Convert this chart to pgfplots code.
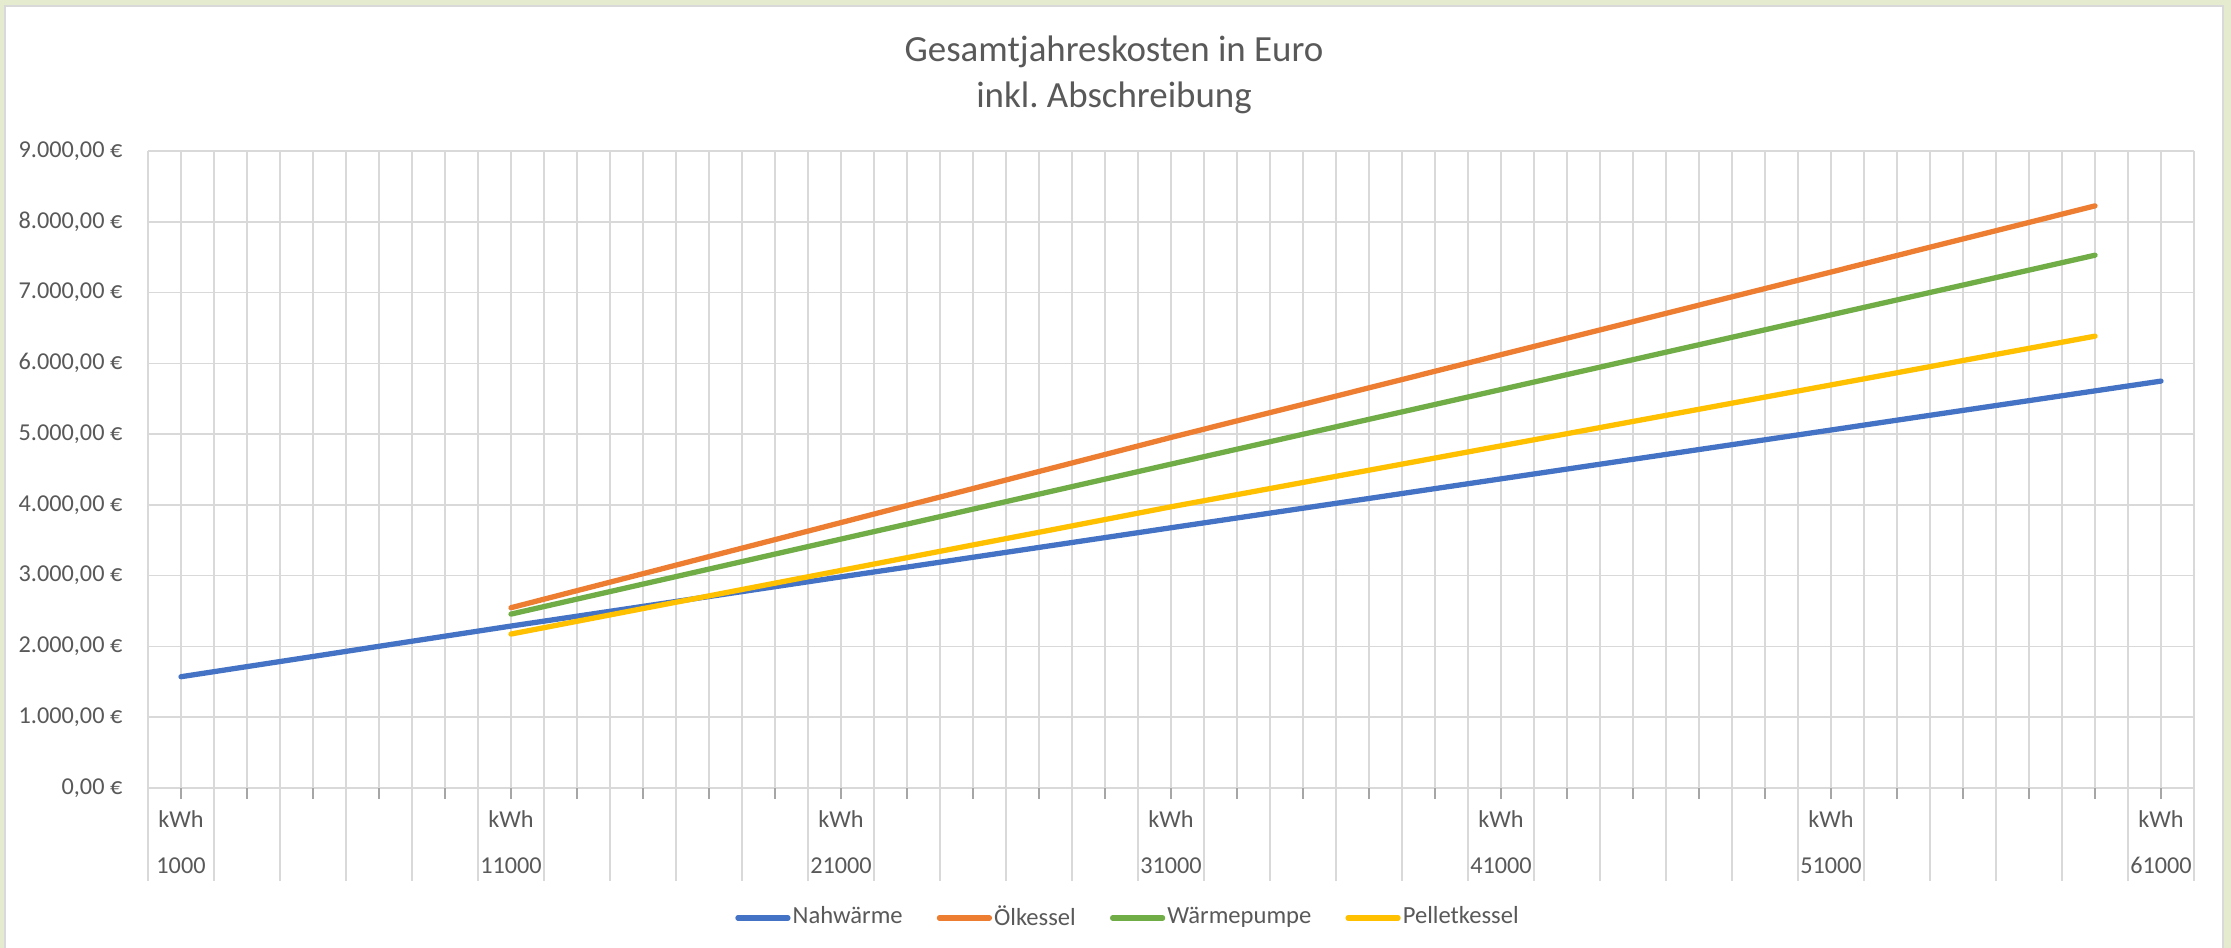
\documentclass[border=0pt]{standalone}
\usepackage{fontspec}
\setmainfont{Carlito}
\usepackage{pgfplots}
\pgfplotsset{compat=1.18}
\frenchspacing
\definecolor{txt}{HTML}{595959}
\definecolor{grd}{HTML}{D9D9D9}
\definecolor{tck}{HTML}{A6A6A6}
\definecolor{bg}{HTML}{E4EBCF}
\definecolor{cA}{HTML}{4472C4}
\definecolor{cB}{HTML}{ED7D31}
\definecolor{cC}{HTML}{70AD47}
\definecolor{cD}{HTML}{FFC000}
\newcommand{\lab}[1]{\begin{tabular}[t]{@{}c@{}}kWh\\#1\end{tabular}}
\pgfplotstableread{
x y
1000 1572
3000 1715
5000 1858
7000 2002
9000 2145
11000 2288
13000 2427
15000 2566
17000 2705
19000 2844
21000 2983
23000 3121
25000 3260
27000 3399
29000 3538
31000 3677
33000 3815
35000 3953
37000 4091
39000 4230
41000 4368
43000 4506
45000 4644
47000 4782
49000 4920
51000 5058
53000 5197
55000 5335
57000 5473
59000 5611
61000 5749
}\nahw
\pgfplotstableread{
x y
11000 2547
13000 2788
15000 3028
17000 3269
19000 3509
21000 3750
23000 3991
25000 4231
27000 4472
29000 4712
31000 4953
33000 5187
35000 5420
37000 5654
39000 5888
41000 6122
43000 6355
45000 6589
47000 6823
49000 7057
51000 7290
53000 7524
55000 7758
57000 7991
59000 8225
}\oel
\pgfplotstableread{
x y
11000 2457
13000 2669
15000 2881
17000 3093
19000 3305
21000 3517
23000 3728
25000 3940
27000 4152
29000 4364
31000 4576
33000 4787
35000 4998
37000 5209
39000 5419
41000 5630
43000 5841
45000 6052
47000 6263
49000 6474
51000 6685
53000 6896
55000 7106
57000 7317
59000 7528
}\wp
\pgfplotstableread{
x y
11000 2175
13000 2355
15000 2535
17000 2714
19000 2894
21000 3074
23000 3254
25000 3434
27000 3613
29000 3793
31000 3973
33000 4145
35000 4317
37000 4490
39000 4662
41000 4834
43000 5006
45000 5179
47000 5351
49000 5523
51000 5695
53000 5867
55000 6040
57000 6212
59000 6384
}\pel
\begin{document}
\begin{tikzpicture}
\fill[bg] (0,0) rectangle (22.31,9.48);
\filldraw[fill=white, draw=grd, line width=0.6pt] (0.05,-0.3) rectangle (22.23,9.423);
\node[font=\fontsize{10.5}{12.6}\selectfont, text=txt, anchor=base] at (11.14,8.86) {Gesamtjahreskosten in Euro};
\node[font=\fontsize{10.5}{12.6}\selectfont, text=txt, anchor=base] at (11.14,8.40) {inkl. Abschreibung};
\begin{axis}[
  at={(1.48cm,1.60cm)}, anchor=south west, scale only axis,
  width=20.46cm, height=6.37cm,
  xmin=0, xmax=62000, ymin=0, ymax=9000,
  scaled x ticks=false, scaled y ticks=false,
  axis line style={draw=none},
  xtick={1000,3000,...,61000},
  minor xtick={0,2000,...,62000},
  ytick={0,1000,...,9000},
  xticklabels={\lab{1000},,,,,\lab{11000},,,,,\lab{21000},,,,,\lab{31000},,,,,\lab{41000},,,,,\lab{51000},,,,,\lab{61000}},
  yticklabels={{0,00 €},{1.000,00 €},{2.000,00 €},{3.000,00 €},{4.000,00 €},{5.000,00 €},{6.000,00 €},{7.000,00 €},{8.000,00 €},{9.000,00 €}},
  xmajorgrids, xminorgrids, ymajorgrids,
  major grid style={grd, line width=0.45pt},
  minor grid style={grd, line width=0.45pt},
  xtick pos=bottom, ytick pos=left,
  tick align=outside,
  major tick length=0.11cm,
  minor tick length=0.93cm,
  every major tick/.append style={tck, line width=0.5pt},
  every minor tick/.append style={grd, line width=0.45pt},
  ytick style={draw=none},
  xticklabel style={anchor=base, inner sep=0pt, yshift=-0.29cm, font=\fontsize{6.9}{12.9}\selectfont, text=txt},
  yticklabel style={anchor=east, inner sep=0pt, xshift=-0.14cm, font=\fontsize{6.9}{8}\selectfont, text=txt},
  legend columns=4,
  legend style={at={(0.479,-0.204)}, anchor=center, draw=none, fill=none,
    font=\fontsize{7}{8}\selectfont,
    nodes={inner sep=0.6pt, text=txt},
    /tikz/every even column/.append style={column sep=0.32cm}},
  legend image code/.code={\draw[#1, line width=1.5pt] (0cm,0cm) -- (0.5cm,0cm);},
]
\addplot[cA, line width=1.5pt, line cap=round, line join=round] table[x=x,y=y] {\nahw};
\addplot[cB, line width=1.5pt, line cap=round, line join=round] table[x=x,y=y] {\oel};
\addplot[cC, line width=1.5pt, line cap=round, line join=round] table[x=x,y=y] {\wp};
\addplot[cD, line width=1.5pt, line cap=round, line join=round] table[x=x,y=y] {\pel};
\legend{Nahwärme, Ölkessel, Wärmepumpe, Pelletkessel}
\end{axis}
\pgfresetboundingbox
\useasboundingbox (0,0) rectangle (22.31,9.48);
\end{tikzpicture}
\end{document}
